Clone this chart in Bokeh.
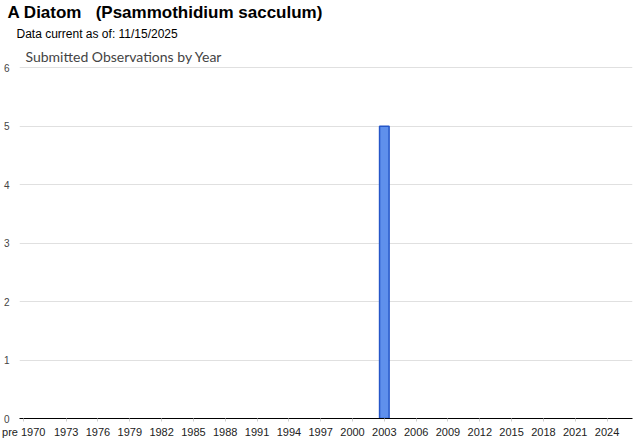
from bokeh.plotting import figure
from bokeh.models import Title, Range1d, FixedTicker, SingleIntervalTicker
from bokeh.embed import file_html
from bokeh.resources import INLINE

# ---- data ----
main_title = "A Diatom\u00a0\u00a0 (Psammothidium sacculum)"
sub_title = "Data current as of: 11/15/2025"
chart_title = "Submitted Observations by Year"

tick_years = [1969, 1973, 1976, 1979, 1982, 1985, 1988, 1991, 1994, 1997,
              2000, 2003, 2006, 2009, 2012, 2015, 2018, 2021, 2024]
tick_labels = ["pre 1970", "1973", "1976", "1979", "1982", "1985", "1988", "1991",
               "1994", "1997", "2000", "2003", "2006", "2009", "2012", "2015",
               "2018", "2021", "2024"]

obs_years = [2003]
obs_counts = [5]

# ---- figure ----
p = figure(width=624, height=426, output_backend="svg", toolbar_location=None,
           x_range=Range1d(1968.6, 2026.4), y_range=Range1d(0, 6.02),
           min_border_left=0, min_border_right=1, min_border_top=3, min_border_bottom=0)
p.frame_width = 613
p.frame_height = 352

p.title.text = main_title
p.title.text_font = "Liberation Sans"
p.title.text_font_size = "17px"
p.title.text_font_style = "bold"
p.title.text_color = "#000000"
p.title.offset = -12
p.title.standoff = 0

# titles in 'above' stack outward from the frame in the order they are added
p.add_layout(Title(text=chart_title, text_font="Lato", text_font_size="14px",
                   text_font_style="normal", text_color="#444444", offset=6, standoff=4), "above")
p.add_layout(Title(text=sub_title, text_font="Liberation Sans", text_font_size="12px",
                   text_font_style="normal", text_color="#000000", offset=-3, standoff=6), "above")

p.vbar(x=obs_years, top=obs_counts, width=0.9, fill_color="#5f90ec",
       line_color="#2556c8", line_width=1.5)

p.outline_line_color = None
p.xgrid.grid_line_color = None
p.ygrid.grid_line_color = "#e0e0e0"
p.ygrid.ticker = SingleIntervalTicker(interval=1)

ya = p.yaxis[0]
ya.ticker = SingleIntervalTicker(interval=1)
ya.axis_line_color = None
ya.major_tick_line_color = None
ya.minor_tick_line_color = None
ya.major_label_text_font = "Liberation Sans"
ya.major_label_text_font_size = "10px"
ya.major_label_text_color = "#444444"
ya.major_label_standoff = 4

xa = p.xaxis[0]
xa.axis_label = None
xa.ticker = FixedTicker(ticks=tick_years)
xa.major_label_overrides = {y: l for y, l in zip(tick_years, tick_labels)}
xa.axis_line_color = "#000000"
xa.axis_line_width = 1.2
xa.major_tick_line_color = "#cccccc"
xa.major_tick_in = 0
xa.major_tick_out = 3
xa.minor_tick_line_color = None
xa.major_label_text_font = "Liberation Sans"
xa.major_label_text_font_size = "11px"
xa.major_label_text_color = "#222222"
xa.major_label_standoff = 4

open("out.html", "w").write(file_html(p, INLINE))
